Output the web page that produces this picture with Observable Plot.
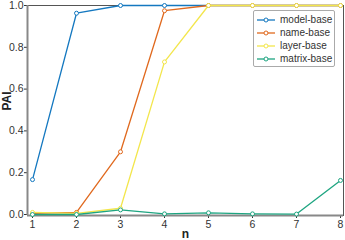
<!DOCTYPE html>
<html><head><meta charset="utf-8">
<script src="https://cdn.jsdelivr.net/npm/d3@7"></script>
<script src="https://cdn.jsdelivr.net/npm/@observablehq/plot@0.6"></script>
<style>
body{margin:0;background:#fff;font-family:"Liberation Sans",Arial,sans-serif;}
#wrap{position:relative;width:345px;height:240px;}
#legend{position:absolute;left:253px;top:10px;width:82px;height:57px;border:1px solid #aaa;border-radius:2px;background:#fff;box-sizing:border-box;font-size:10px;color:#333;padding-top:2px;}
#legend .row{display:flex;align-items:center;height:13px;margin-left:3px;white-space:nowrap;}
#legend .row svg{flex:0 0 auto;}
#legend .row span{margin-left:5px;}
</style></head>
<body><div id="wrap"><div id="legend"></div></div>
<script>
const n = [1,2,3,4,5,6,7,8];
const series = ["model-base","name-base","layer-base","matrix-base"];
const colors = ["#1478c0","#e0691e","#f3e64c","#1ea581"];
const modelBase = [0.167,0.963,1.0,1.0,1.0,1.0,1.0,1.0];
const nameBase = [0.005,0.01,0.30,0.975,1.0,1.0,1.0,1.0];
const layerBase = [0.01,0.005,0.03,0.73,1.0,1.0,1.0,1.0];
const matrixBase = [0.0,0.0,0.022,0.003,0.008,0.003,0.002,0.163];
const yTicks = [0,0.2,0.4,0.6,0.8,1.0];

const vals = [modelBase,nameBase,layerBase,matrixBase];
const data = [];
series.forEach((s,i)=>n.forEach((x,j)=>data.push({series:s,n:x,v:vals[i][j]})));

const plot = Plot.plot({
  width:345,height:240,
  marginLeft:27,marginRight:2,marginTop:5,marginBottom:25,
  style:{fontFamily:"Liberation Sans, Arial, sans-serif",fontSize:"10.5px",color:"#333",overflow:"visible"},
  x:{domain:[1,8],insetLeft:5,insetRight:3,label:null},
  y:{domain:[0,1],insetBottom:1,label:null},
  color:{domain:series,range:colors},
  marks:[
    Plot.frame({stroke:"#555",strokeWidth:1}),
    Plot.axisX({ticks:n,tickFormat:d=>d,tickSize:3,tickPadding:2,label:null}),
    Plot.axisY({ticks:yTicks,tickFormat:d=>d.toFixed(1),tickSize:3,tickPadding:1,label:null}),
    Plot.ruleY([0],{stroke:"#888",strokeWidth:2,dy:1}),
    Plot.ruleX([1],{stroke:"#888",strokeWidth:2,dx:-5}),
    Plot.line(data,{x:"n",y:"v",z:"series",stroke:"series",strokeWidth:1.3}),
    Plot.dot(data,{x:"n",y:"v",stroke:"series",fill:"white",r:2,strokeWidth:1}),
    Plot.text(["n"],{frameAnchor:"bottom",dy:22,fontWeight:"bold",fontSize:12,fill:"#222"}),
    Plot.text(["PAI"],{frameAnchor:"left",dx:-20,rotate:-90,fontWeight:"bold",fontSize:12,fill:"#222"})
  ]
});
document.getElementById("wrap").prepend(plot);
const lg = document.getElementById("legend");
series.forEach((s,i)=>{
  const r=document.createElement("div");r.className="row";
  r.innerHTML=`<svg width="18" height="6"><line x1="0" y1="3" x2="18" y2="3" stroke="${colors[i]}" stroke-width="1.3"/><circle cx="9" cy="3" r="2" fill="white" stroke="${colors[i]}"/></svg><span>${s}</span>`;
  lg.appendChild(r);
});
</script></body></html>
